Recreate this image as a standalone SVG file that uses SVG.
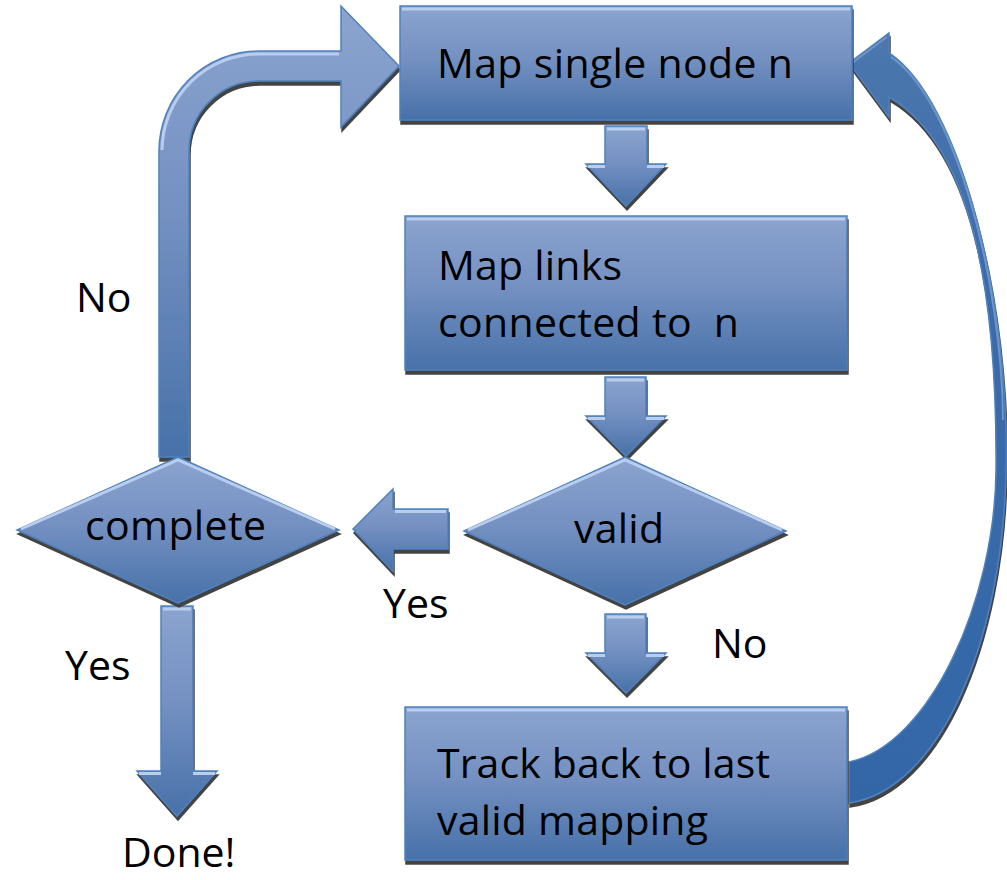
<svg xmlns="http://www.w3.org/2000/svg" width="1007" height="880" viewBox="0 0 1007 880">
  <style>
    .shape { fill: url(#fillBlue); stroke: #4f81bd; stroke-width: 1.5; stroke-linejoin: miter; }
    .curve { fill: url(#curveFill); stroke: #4f81bd; stroke-width: 1.5; }
    .shadowed { filter: url(#hardShadow); }
    .hl { fill: none; stroke: #b9cdef; stroke-width: 3; }
    .txt { font-family: "Open Sans", "Liberation Sans", sans-serif; font-size: 41px; fill: #000; }
  </style>
  <defs>
    <linearGradient id="fillBlue" x1="0" y1="0" x2="0" y2="1">
      <stop offset="0" stop-color="#8ba4cf"/>
      <stop offset="0.45" stop-color="#7591c2"/>
      <stop offset="1" stop-color="#4771a9"/>
    </linearGradient>
    <linearGradient id="curveFill" x1="0" y1="0" x2="0" y2="1">
      <stop offset="0" stop-color="#4c77ae"/>
      <stop offset="0.3" stop-color="#3d6caa"/>
      <stop offset="1" stop-color="#3366a7"/>
    </linearGradient>
    <filter id="hardShadow" x="-5%" y="-5%" width="115%" height="115%">
      <feDropShadow dx="1" dy="4" stdDeviation="0.6" flood-color="#3a3a3a" flood-opacity="0.95"/>
    </filter>
  </defs>

  <rect width="1007" height="880" fill="#ffffff"/>

  <!-- connectors: block arrows between the steps -->
  <g id="connectors">
    <!-- loop back: complete (No) to Map single node n -->
    <g id="edge-complete-map">
      <path class="shape shadowed" d="M159,457 L159,151 A100,100 0 0 1 259,51 L341,51 L341,6 L399,66 L341,127 L341,81 L259,81 A70,70 0 0 0 189,151 L189,457 Z"/>
      <path class="hl" d="M162,150 A97,97 0 0 1 259,54 L339,54"/>
    </g>
    <!-- Map single node n to Map links -->
    <g id="edge-map-links">
      <path class="shape shadowed" d="M605,126 L647,126 L647,164 L666,164 L626,206 L586,164 L605,164 Z"/>
      <path class="hl" d="M607,129 L645,129 M588,166.5 L605,166.5 M647,166.5 L664,166.5"/>
    </g>
    <!-- Map links to valid -->
    <g id="edge-links-valid">
      <path class="shape shadowed" d="M605,377 L646,377 L646,416 L666,416 L626,456 L586,416 L605,416 Z"/>
      <path class="hl" d="M607,380 L644,380 M588,418.5 L605,418.5 M646,418.5 L664,418.5"/>
    </g>
    <!-- valid (No) to Track back -->
    <g id="edge-valid-track">
      <path class="shape shadowed" d="M605,614 L646,614 L646,653 L666,653 L626,693 L586,653 L605,653 Z"/>
      <path class="hl" d="M607,617 L644,617 M588,655.5 L605,655.5 M646,655.5 L664,655.5"/>
    </g>
    <!-- valid (Yes) to complete -->
    <g id="edge-valid-complete">
      <path class="shape shadowed" d="M448,509 L448,549 L393,549 L393,571 L353,529 L393,489 L393,509 Z"/>
      <path class="hl" d="M395,511.5 L446,511.5"/>
    </g>
    <!-- complete (Yes) to Done -->
    <g id="edge-complete-done">
      <path class="shape shadowed" d="M161,606 L193,606 L193,771 L217,771 L177,816 L137,771 L161,771 Z"/>
      <path class="hl" d="M163,609 L191,609 M139,773.5 L161,773.5 M193,773.5 L215,773.5"/>
    </g>
    <!-- Track back to Map single node n -->
    <g id="edge-track-map">
      <path class="curve shadowed" d="M849,63 L889,33 L889,53 C960,100 1010,300 1006,470 C1003,640 940,790 849,803 L849,762 C930,745 995,600 996,470 C997,320 980,150 889,97 L889,117 Z"/>
      <path d="M852,63 L887,37 M891,57 C955,100 1002,280 1003,420" fill="none" stroke="#6f95c8" stroke-width="2"/>
    </g>

    <!-- connector labels -->
    <text class="txt" x="76" y="312">No</text>
    <text class="txt" x="383" y="618">Yes</text>
    <text class="txt" x="712" y="658">No</text>
    <text class="txt" x="65" y="680">Yes</text>
    <text class="txt" x="122" y="867">Done!</text>
  </g>

  <!-- process and decision nodes -->
  <g id="node-map-single">
    <rect class="shape shadowed" x="400" y="6" width="452" height="114"/>
    <line class="hl" x1="402" y1="9" x2="850" y2="9"/>
    <text class="txt" x="437" y="78" textLength="356">Map single node n</text>
  </g>

  <g id="node-map-links">
    <rect class="shape shadowed" x="405" y="216" width="442" height="154"/>
    <line class="hl" x1="407" y1="219" x2="845" y2="219"/>
    <text class="txt" x="438" y="280" textLength="184">Map links</text>
    <text class="txt" x="438" y="337" textLength="301" xml:space="preserve">connected to  n</text>
  </g>

  <g id="node-valid">
    <path class="shape shadowed" d="M625,457 L786,531 L625,605 L464,531 Z"/>
    <path class="hl" d="M468,530 L625,460 L782,530" stroke-width="2"/>
    <text class="txt" x="574" y="543" textLength="90">valid</text>
  </g>

  <g id="node-complete">
    <path class="shape shadowed" d="M178,457 L339,530 L178,603 L17,530 Z"/>
    <path class="hl" d="M21,529 L178,460 L335,529" stroke-width="2"/>
    <text class="txt" x="85" y="540" textLength="181">complete</text>
  </g>

  <g id="node-track-back">
    <rect class="shape shadowed" x="405" y="707" width="442" height="153"/>
    <line class="hl" x1="407" y1="710" x2="845" y2="710"/>
    <text class="txt" x="437" y="778" textLength="333">Track back to last</text>
    <text class="txt" x="437" y="835" textLength="271">valid mapping</text>
  </g>
</svg>
